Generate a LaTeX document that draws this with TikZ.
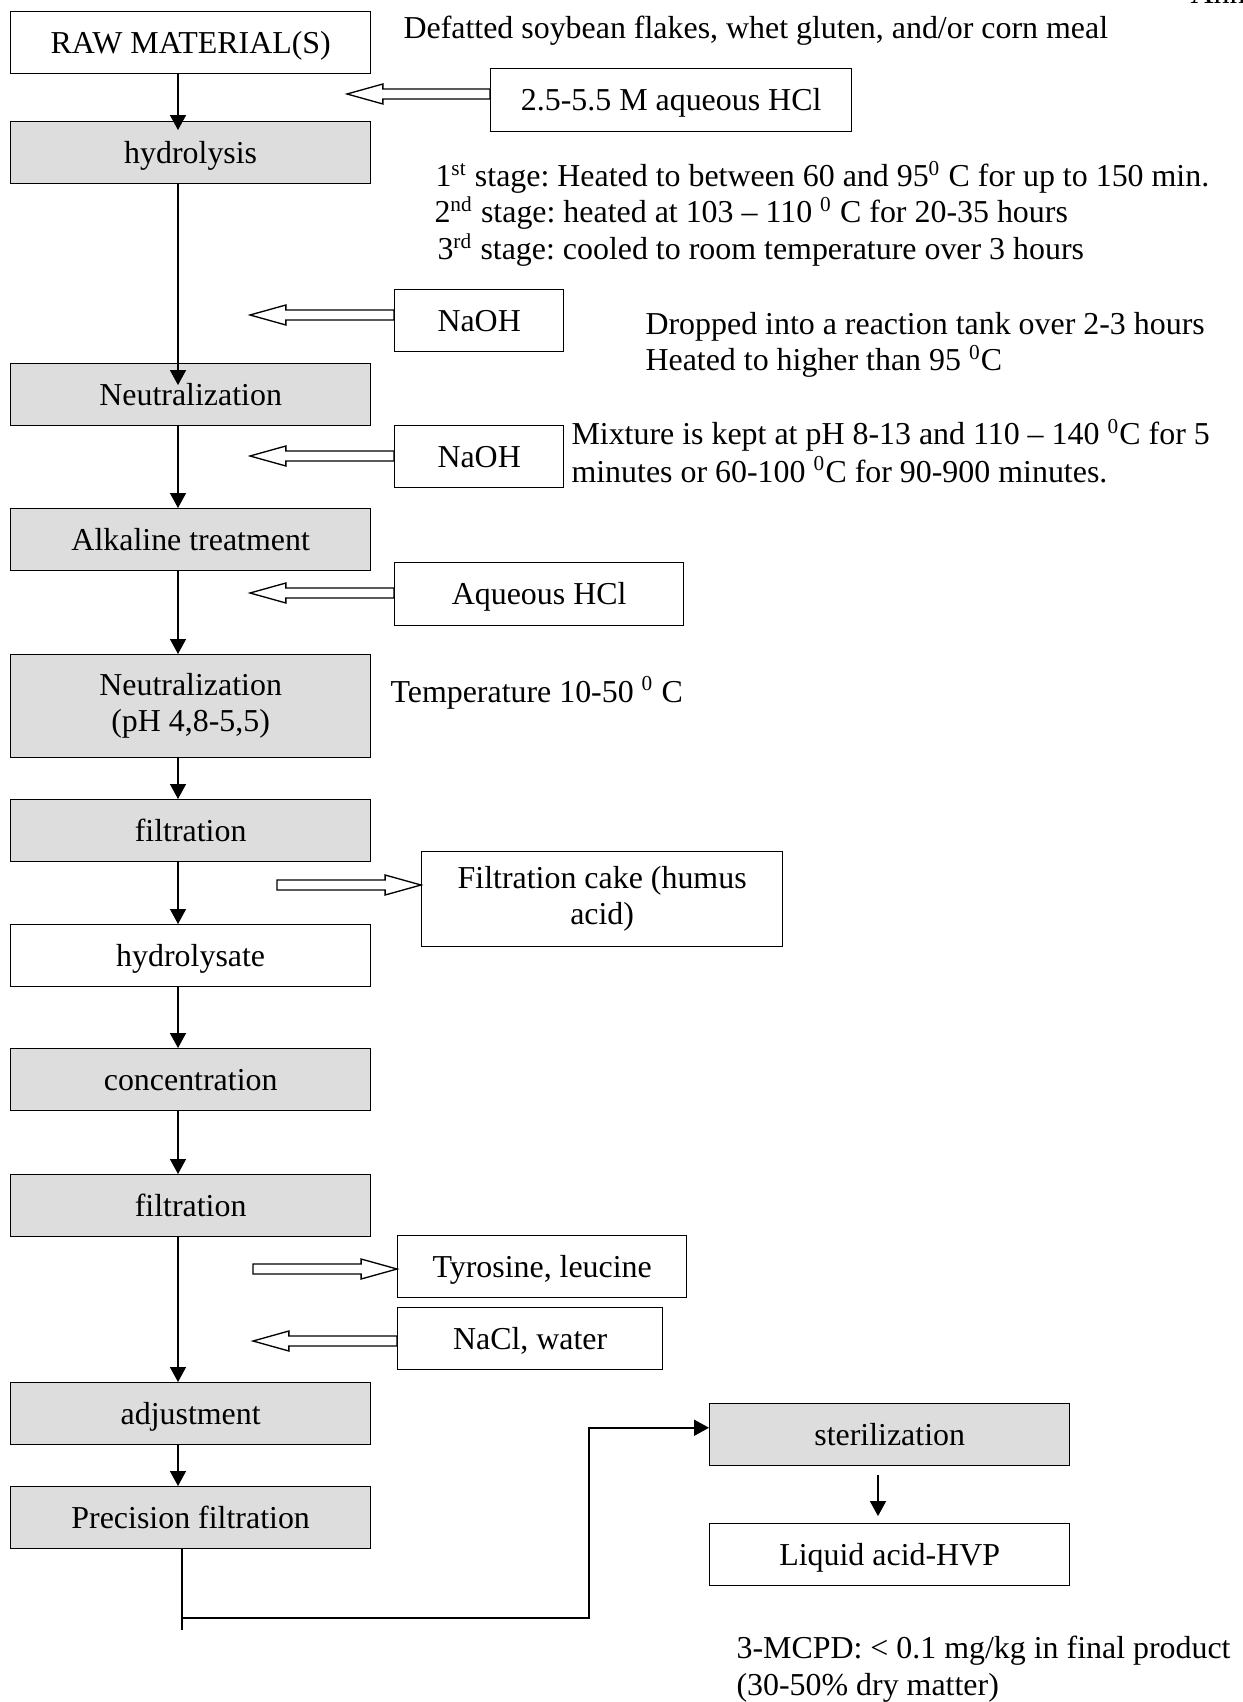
\documentclass[tikz,border=0pt]{standalone}
\usepackage{fontspec}
\setmainfont{Liberation Serif}
\usetikzlibrary{arrows.meta,calc}
\newdimen\pxu \pxu=0.376pt
\definecolor{stepgray}{RGB}{221,221,221}
\frenchspacing

\begin{document}
\begin{tikzpicture}[x=0.376pt,y=-0.376pt,
    font=\fontsize{12}{13.6}\selectfont,
    box/.style={draw,line width=0.5pt,anchor=north west,inner sep=0pt,
      align=center,minimum width=360*\pxu,minimum height=62*\pxu},
    onerow/.style={text height=8pt,text depth=0pt},
    graybox/.style={box,onerow,fill=stepgray},
    whitebox/.style={box,onerow,fill=white},
    remark/.style={anchor=base west,inner sep=0pt},
    flow/.style={line width=0.45pt,-{Triangle[length=5.6pt,width=6pt]}},
    feed/.style={line width=0.5pt,to path={
      let \p1=(\tikztostart), \p2=(\tikztotarget),
          \n1={ifthenelse(\x2>\x1,\x2-13.5,\x2+13.5)} in
      (\x1,\y1+1.88pt) -- (\n1,\y1+1.88pt) -- (\n1,\y1+3.76pt) -- (\x2,\y2)
      -- (\n1,\y1-3.76pt) -- (\n1,\y1-1.88pt) -- (\x1,\y1-1.88pt) -- cycle}}]
      \useasboundingbox (0,0) rectangle (1242,1702) ;
      % main line of steps
      \node[whitebox] (raw) at (10,11) {RAW MATERIAL(S)} ;
      \node[graybox] (hyd) at (10,121) {hydrolysis} ;
      \node[graybox] (neu1) at (10,363) {Neutralization} ;
      \node[graybox] (alk) at (10,508) {Alkaline treatment} ;
      \node[box,fill=stepgray,minimum height=103*\pxu] (neu2) at (10,654) %
      {Neutralization\\(pH 4,8-5,5)} ;
      \node[graybox] (filt1) at (10,799) {filtration} ;
      \node[whitebox] (hyds) at (10,924) {hydrolysate} ;
      \node[graybox] (conc) at (10,1048) {concentration} ;
      \node[graybox] (filt2) at (10,1174) {filtration} ;
      \node[graybox] (adj) at (10,1382) {adjustment} ;
      \node[graybox] (prec) at (10,1486) {Precision filtration} ;
      \node[graybox] (ster) at (709,1403) {sterilization} ;
      \node[whitebox] (hvp) at (709,1523) {Liquid acid-HVP} ;
      % added and removed streams
      \node[whitebox,minimum width=361*\pxu,minimum height=63*\pxu] (hcl) %
      at (490,68) {2.5-5.5 M aqueous HCl} ;
      \node[whitebox,minimum width=169*\pxu] (naoh1) at (394,289) {NaOH} ;
      \node[whitebox,minimum width=169*\pxu] (naoh2) at (394,425) {NaOH} ;
      \node[whitebox,minimum width=289*\pxu,minimum height=63*\pxu] (aqhcl) %
      at (394,562) {Aqueous HCl} ;
      \node[box,fill=white,minimum width=361*\pxu,minimum height=95*\pxu] (cake) %
      at (421,851) {Filtration cake (humus\\acid)} ;
      \node[whitebox,minimum width=289*\pxu] (tyr) at (397,1235) {Tyrosine, leucine} ;
      \node[whitebox,minimum width=265*\pxu] (nacl) at (397,1307) {NaCl, water} ;
      % notes
      \node[remark] (src) at (403,39) %
      {Defatted soybean flakes, whet gluten, and/or corn meal} ;
      \node[remark] (stage1) at (435,187) %
      {1\textsuperscript{st} stage: Heated to between 60 and 95\textsuperscript{0} C for up to 150 min.} ;
      \node[remark] (stage2) at (434,223) %
      {2\textsuperscript{nd} stage: heated at 103 -- 110 \textsuperscript{0} C for 20-35 hours} ;
      \node[remark] (stage3) at (437,260) %
      {3\textsuperscript{rd} stage: cooled to room temperature over 3 hours} ;
      \node[remark] (drop1) at (645,335) {Dropped into a reaction tank over 2-3 hours} ;
      \node[remark] (drop2) at (645,371) {Heated to higher than 95 \textsuperscript{0}C} ;
      \node[remark] (mix1) at (571,445) %
      {Mixture is kept at pH 8-13 and 110 -- 140 \textsuperscript{0}C for 5} ;
      \node[remark] (mix2) at (571,482) {minutes or 60-100 \textsuperscript{0}C for 90-900 minutes.} ;
      \node[remark] (temp) at (390,702) {Temperature 10-50 \textsuperscript{0} C} ;
      \node[remark] (mcpd1) at (736,1658) {3-MCPD: < 0.1 mg/kg in final product} ;
      \node[remark] (mcpd2) at (736,1695) {(30-50\% dry matter)} ;
      \node[remark] (ann) at (1190,4) {Ann} ;
      % vertical arrows
      \coordinate (spine) at (178,0) ;
      \draw[flow,shorten >=-3.4pt] (raw.south -| spine) -- (hyd.north -| spine) ;
      \draw[flow,shorten >=-8.3pt] (hyd.south -| spine) -- (neu1.north -| spine) ;
      \draw[flow] (neu1.south -| spine) -- (alk.north -| spine) ;
      \draw[flow] (alk.south -| spine) -- (neu2.north -| spine) ;
      \draw[flow] (neu2.south -| spine) -- (filt1.north -| spine) ;
      \draw[flow] (filt1.south -| spine) -- (hyds.north -| spine) ;
      \draw[flow] (hyds.south -| spine) -- (conc.north -| spine) ;
      \draw[flow] (conc.south -| spine) -- (filt2.north -| spine) ;
      \draw[flow] (filt2.south -| spine) -- (adj.north -| spine) ;
      \draw[flow] (adj.south -| spine) -- (prec.north -| spine) ;
      \coordinate (sterspine) at (878,0) ;
      \draw[flow,shorten <=3.4pt,shorten >=2.6pt] (ster.south -| sterspine) %
      -- (hvp.north -| sterspine) ;
      % outlet to sterilization
      \coordinate (stub) at (182,1630) ;
      \coordinate (elbow) at (182,1618) ;
      \coordinate (riser) at (589,1618) ;
      \draw[line width=0.45pt] (prec.south -| stub) -- (stub) ;
      \draw[flow,line width=0.6pt] (elbow) -- (riser) |- ([yshift=2.6pt]ster.west) ;
      % hollow arrows
      \coordinate (hclTip) at (347,94) ;
      \coordinate (naoh1Tip) at (250,315) ;
      \coordinate (naoh2Tip) at (250,456) ;
      \coordinate (aqTip) at (250,593) ;
      \coordinate (cakeTail) at (277,885) ;
      \coordinate (tyrTail) at (253,1269) ;
      \coordinate (naclTip) at (253,1341) ;
      \draw[feed] (hcl.west |- hclTip) to (hclTip) ;
      \draw[feed] (naoh1.west |- naoh1Tip) to (naoh1Tip) ;
      \draw[feed] (naoh2.west |- naoh2Tip) to (naoh2Tip) ;
      \draw[feed] (aqhcl.west |- aqTip) to (aqTip) ;
      \draw[feed] (cakeTail) to (cake.west |- cakeTail) ;
      \draw[feed] (tyrTail) to (tyr.west |- tyrTail) ;
      \draw[feed] (nacl.west |- naclTip) to (naclTip) ;
    \end{tikzpicture}
\end{document}
